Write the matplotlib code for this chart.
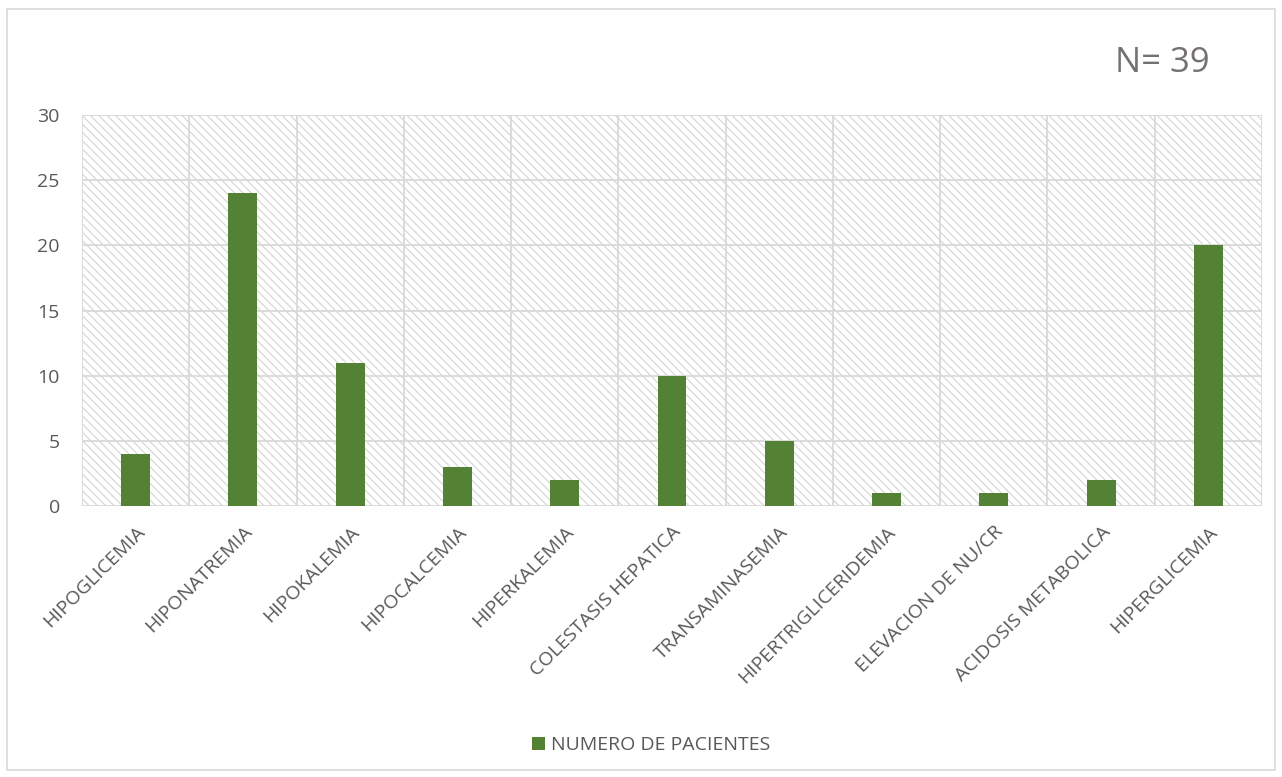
import matplotlib
matplotlib.use("Agg")
import matplotlib.pyplot as plt
from matplotlib.patches import Rectangle
import numpy as np

categories = ["HIPOGLICEMIA", "HIPONATREMIA", "HIPOKALEMIA", "HIPOCALCEMIA",
              "HIPERKALEMIA", "COLESTASIS HEPATICA", "TRANSAMINASEMIA",
              "HIPERTRIGLICERIDEMIA", "ELEVACION DE NU/CR", "ACIDOSIS METABOLICA",
              "HIPERGLICEMIA"]
pacientes = [4, 24, 11, 3, 2, 10, 5, 1, 1, 2, 20]
series_name = "NUMERO DE PACIENTES"
y_ticks = [0, 5, 10, 15, 20, 25, 30]
total_label = "N= 39"

plt.rcParams["font.family"] = ["Open Sans", "DejaVu Sans"]
plt.rcParams["hatch.linewidth"] = 0.8

W, H = 1282, 777
fig = plt.figure(figsize=(W / 100, H / 100), dpi=100)
fig.patch.set_facecolor("white")

# outer chart frame
fig.add_artist(Rectangle((7 / W, 1 - 770 / H), (1275 - 7) / W, (770 - 9) / H,
                         transform=fig.transFigure, facecolor="none",
                         edgecolor="#d9d9d9", linewidth=1.2))

ax = fig.add_axes([82 / W, 1 - 506 / H, (1262 - 82) / W, (506 - 115) / H])
n = len(categories)
x = np.arange(n)

# hatched plot-area background
ax.add_patch(Rectangle((0, 0), 1, 1, transform=ax.transAxes, facecolor="white",
                       edgecolor="#d4d4d4", hatch="\\\\\\\\", linewidth=0, zorder=0))

ax.bar(x, pacientes, width=0.27, color="#548235", zorder=3, label=series_name)

ax.set_xlim(-0.5, n - 0.5)
ax.set_ylim(0, 30)
ax.set_yticks(y_ticks)

# gridlines
for yv in y_ticks:
    ax.axhline(yv, color="#d9d9d9", linewidth=1.3, zorder=1)
for xv in np.arange(-0.5, n, 1.0):
    ax.axvline(xv, color="#d9d9d9", linewidth=1.3, zorder=1)

for s in ax.spines.values():
    s.set_visible(False)

fs = 14
ax.tick_params(axis="both", length=0, colors="#595959", labelsize=fs)
ax.tick_params(axis="y", pad=16)
ax.set_xticks(x)
ax.set_xticklabels(categories, rotation=45, ha="right", va="top",
                   rotation_mode="anchor", color="#595959", fontsize=fs)
ax.tick_params(axis="x", pad=12)

fig.text(1162 / W, 1 - 63 / H, total_label, ha="center", va="center",
         fontsize=25, color="#767171")

fig.legend(loc="center", bbox_to_anchor=(0.508, 1 - 745 / H), frameon=False,
           fontsize=fs, handlelength=0.65, handleheight=0.65, handletextpad=0.3,
           labelcolor="#595959")

fig.savefig("out.png", dpi=100, facecolor="white")
